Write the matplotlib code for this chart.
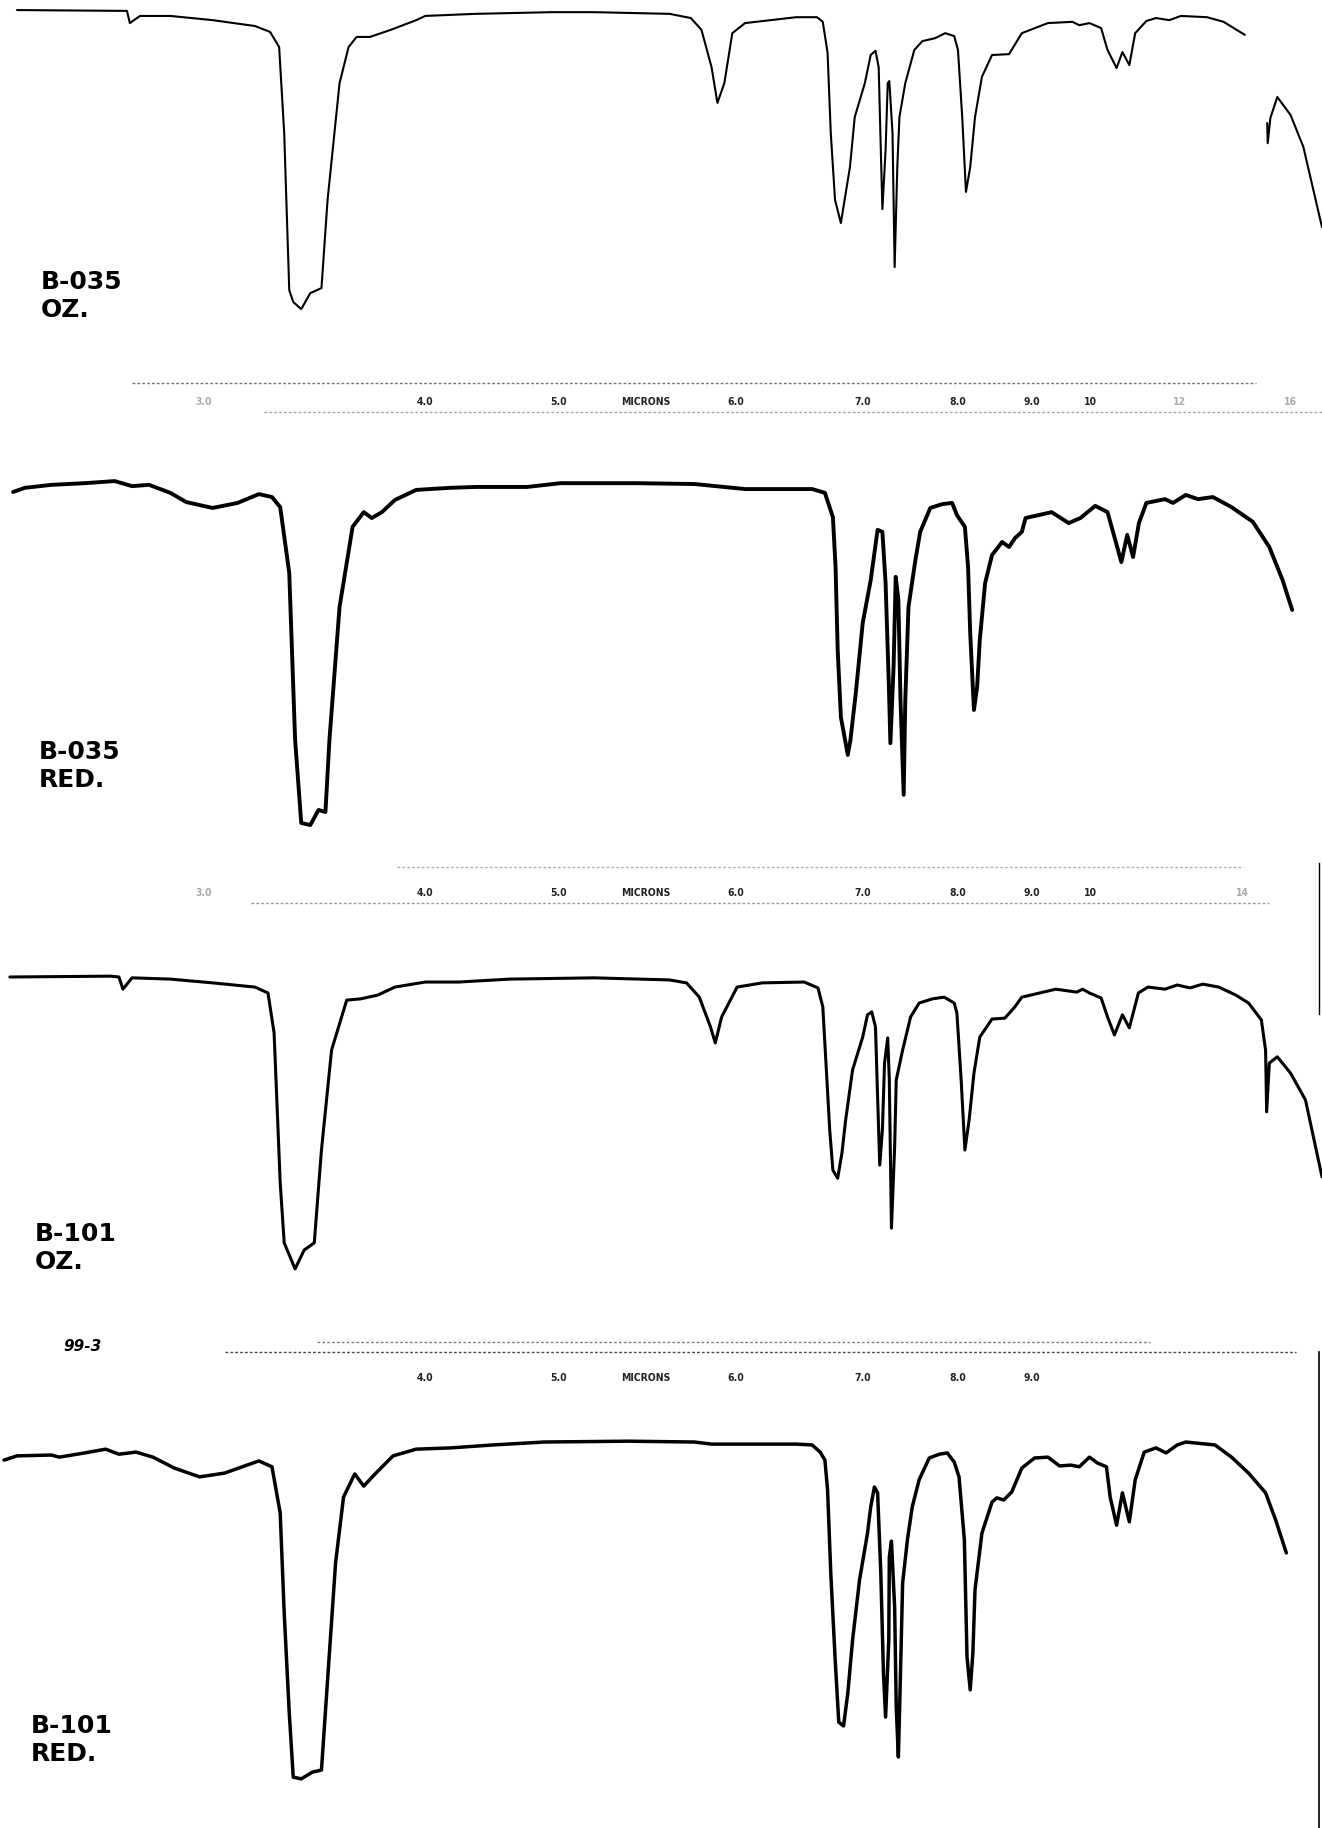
import numpy as np
import matplotlib.pyplot as plt
from matplotlib.lines import Line2D

# IR spectra, wavenumber (cm-1) vs % transmittance
b035_oz_wn = [4034, 3621, 3610, 3572, 3458, 3299, 3140, 3083, 3049, 3030, 3011, 2996, 2966, 2932, 2890,
              2867, 2822, 2788, 2758, 2708, 2629, 2534, 2500, 2311, 2023, 1933, 1791, 1751, 1731,
              1712, 1701, 1688, 1673, 1649, 1553, 1514, 1503, 1494, 1488, 1480, 1469, 1462, 1452,
              1443, 1424, 1413, 1404, 1398, 1394, 1391, 1385, 1381, 1378, 1372, 1368, 1363, 1359,
              1348, 1331, 1316, 1292, 1273, 1256, 1249, 1241, 1234, 1226, 1217, 1204, 1185, 1153,
              1129, 1080, 1034, 1021, 1002, 980, 968, 951, 940, 927, 916, 895, 877, 852, 830, 781,
              750, 710, np.nan, 668, 667, 662, 649, 624, 600, 565]
b035_oz_t = [85.7, 85.5, 82.6, 84.3, 84.3, 83.3, 81.9, 80.5, 76.9, 56.4, 19.0, 16.2, 14.5, 18.3, 19.5,
             40.5, 68.3, 76.9, 79.3, 79.3, 81.0, 83.3, 84.3, 84.8, 85.2, 85.2, 84.8, 83.8, 81.0,
             72.1, 63.6, 68.3, 80.2, 82.6, 84.0, 84.0, 82.9, 75.5, 56.4, 40.5, 35.0, 40.5, 48.3,
             60.2, 68.3, 75.0, 76.0, 72.1, 52.4, 38.3, 52.4, 68.3, 68.8, 56.4, 24.5, 48.3, 60.2,
             68.3, 76.2, 78.3, 79.0, 80.2, 79.5, 76.2, 60.2, 42.4, 48.3, 60.2, 69.8, 75.0, 75.2,
             80.2, 82.6, 82.9, 82.1, 82.6, 81.4, 76.2, 71.9, 75.7, 72.6, 80.2, 83.1, 83.8, 83.3, 84.3, 84.0,
             82.9, 79.8, np.nan, 58.8, 54.0, 60.0, 65.0, 60.7, 53.1, 34.0]

b035_red_wn = [4049, 4004, 3905, 3780, 3667, 3602, 3538, 3458, 3398, 3299, 3205, 3125, 3076, 3045,
               3011, 2989, 2966, 2932, 2901, 2875, 2860, 2822, 2773, 2731, 2701, 2663, 2614, 2534,
               2405, 2311, 2117, 1996, 1854, 1744, 1649, 1523, 1499, 1484, 1479, 1475, 1469, 1456,
               1451, 1441, 1428, 1413, 1400, 1391, 1385, 1379, 1376, 1370, 1366, 1361, 1357, 1351,
               1348, 1342, 1329, 1320, 1301, 1279, 1260, 1251, 1236, 1230, 1226, 1219, 1213, 1208,
               1198, 1185, 1166, 1153, 1142, 1129, 1122, 1073, 1041, 1019, 991, 968, 955, 942, 931,
               920, 909, 895, 860, 845, 821, 798, 770, 735, 695, 664, 639, 621]
b035_red_t = [90.0, 91.0, 91.7, 92.1, 92.6, 91.4, 91.7, 89.8, 87.6, 86.2, 87.4, 89.5, 88.8, 86.4,
              70.7, 31.0, 11.2, 10.7, 14.3, 13.8, 31.0, 62.6, 81.7, 85.2, 83.8, 85.2, 88.1, 90.5,
              91.0, 91.2, 91.2, 92.1, 92.1, 91.9, 90.7, 90.7, 89.8, 84.0, 72.1, 52.4, 36.4, 27.4,
              31.0, 42.1, 58.8, 69.0, 81.0, 80.5, 68.3, 44.5, 30.2, 48.3, 69.8, 64.3, 40.5, 17.9,
              40.5, 62.6, 73.8, 80.5, 86.2, 87.1, 87.4, 84.5, 81.7, 72.1, 56.4, 38.1, 43.6, 54.8,
              68.3, 75.0, 78.1, 76.9, 79.0, 80.5, 83.8, 85.2, 82.6, 83.8, 86.7, 85.2, 79.3, 73.3, 79.8,
              74.5, 82.6, 87.4, 88.3, 87.4, 89.3, 88.3, 88.8, 86.4, 82.9, 76.9, 69.0, 61.9]

b101_oz_wn = [4061, 3682, 3651, 3636, 3602, 3458, 3299, 3140, 3091, 3068, 3045, 3030, 2989, 2955,
              2917, 2890, 2852, 2795, 2742, 2678, 2614, 2500, 2375, 2182, 1933, 1791, 1759, 1735,
              1714, 1705, 1693, 1664, 1617, 1538, 1512, 1503, 1497, 1490, 1484, 1475, 1467, 1460,
              1447, 1428, 1419, 1411, 1404, 1400, 1396, 1391, 1387, 1381, 1378, 1374, 1368, 1365,
              1353, 1338, 1322, 1297, 1275, 1256, 1251, 1243, 1236, 1228, 1219, 1208, 1185, 1161,
              1142, 1129, 1065, 1026, 1015, 1002, 980, 968, 955, 940, 927, 910, 892, 860, 837, 813,
              789, 759, 727, 703, 679, 671, 669, 664, 649, 624, 596, 565]
b101_oz_t = [90.0, 90.2, 90.0, 87.1, 89.8, 89.5, 88.6, 87.6, 86.2, 76.7, 41.0, 26.7, 20.5, 25.0,
             26.7, 48.8, 72.6, 84.5, 84.8, 85.7, 87.6, 88.8, 88.8, 89.5, 89.8, 89.3, 88.6, 85.2,
             78.1, 74.3, 80.5, 87.6, 88.6, 88.8, 87.4, 82.9, 69.5, 53.6, 44.0, 42.1, 48.1, 56.0,
             67.9, 75.7, 81.0, 81.7, 78.1, 61.4, 45.2, 53.6, 69.5, 75.5, 65.5, 30.2, 49.5, 65.5,
             72.6, 80.5, 83.8, 84.8, 85.2, 83.8, 81.4, 65.5, 48.8, 56.0, 67.1, 75.7, 80.0, 80.2,
             82.9, 85.2, 87.1, 86.4, 87.1, 86.2, 85.0, 80.5, 76.2, 81.0, 77.9, 86.2, 87.6, 87.1, 88.1, 87.4,
             88.3, 87.6, 85.7, 83.8, 79.8, 72.6, 57.9, 69.5, 71.0, 67.1, 60.7, 42.4]

b101_red_wn = [4083, 4034, 3905, 3875, 3780, 3701, 3651, 3587, 3523, 3443, 3348, 3254, 3170, 3125,
               3076, 3045, 3030, 3011, 2996, 2966, 2924, 2890, 2867, 2837, 2807, 2765, 2731, 2693,
               2621, 2534, 2405, 2246, 2053, 1869, 1744, 1712, 1553, 1523, 1508, 1499, 1494, 1488,
               1480, 1473, 1464, 1456, 1447, 1434, 1419, 1413, 1406, 1400, 1394, 1389, 1385, 1379,
               1378, 1374, 1368, 1365, 1361, 1357, 1353, 1344, 1335, 1322, 1303, 1284, 1269, 1256,
               1247, 1237, 1232, 1226, 1221, 1217, 1204, 1185, 1176, 1163, 1148, 1129, 1105, 1080,
               1058, 1037, 1021, 1002, 987, 970, 963, 951, 940, 927, 916, 899, 877, 858, 837, 821,
               766, 735, 703, 671, 652, 632]
b101_red_t = [87.6, 88.6, 88.8, 88.3, 89.3, 90.2, 89.0, 89.5, 88.3, 85.7, 83.6, 84.5, 86.4, 87.4,
              86.0, 75.0, 51.2, 27.4, 12.1, 11.7, 13.3, 13.8, 35.2, 63.1, 78.8, 84.3, 81.4, 84.0,
              88.6, 90.2, 90.5, 91.2, 91.9, 92.1, 91.9, 91.4, 91.4, 91.2, 89.5, 87.6, 80.5, 60.7,
              40.7, 25.2, 24.3, 32.1, 44.8, 59.0, 70.2, 76.4, 81.2, 79.8, 60.7, 36.9, 26.4, 44.8,
              64.5, 68.3, 52.6, 28.8, 16.9, 36.9, 58.3, 68.6, 76.4, 82.9, 88.1, 89.0, 89.3, 87.1,
              83.6, 68.6, 40.7, 32.9, 41.7, 56.7, 70.2, 77.6, 78.6, 78.1, 80.0, 85.7, 88.1, 88.3,
              86.2, 86.4, 86.0, 88.3, 86.9, 86.0, 78.8, 72.1, 79.8, 72.9, 82.9, 89.5, 90.5, 89.3, 91.2, 91.9,
              91.2, 88.3, 84.5, 79.8, 73.3, 65.5]

sample_labels = ["B-035\nOZ.", "B-035\nRED.", "B-101\nOZ.", "B-101\nRED."]

# micron tick labels printed on each chart strip
row1_microns = [3.0, 4.0, 5.0, 6.0, 7.0, 8.0, 9.0, 10, 12, 16]
row1_labels = ["3.0", "4.0", "5.0", "6.0", "7.0", "8.0", "9.0", "10", "12", "16"]
row2_microns = [3.0, 4.0, 5.0, 6.0, 7.0, 8.0, 9.0, 10, 14]
row2_labels = ["3.0", "4.0", "5.0", "6.0", "7.0", "8.0", "9.0", "10", "14"]
row3_microns = [4.0, 5.0, 6.0, 7.0, 8.0, 9.0]
row3_labels = ["4.0", "5.0", "6.0", "7.0", "8.0", "9.0"]
faint = ["3.0", "12", "14", "16"]
microns_word_at = 5.45


# grating chart: scale doubles below 2000 cm-1
def fwd(w):
    w = np.asarray(w, float)
    return np.where(w >= 2000, w - 2000, 2 * (w - 2000))


def inv(u):
    u = np.asarray(u, float)
    return np.where(u >= 0, u + 2000, u / 2 + 2000)


W, H = 1322, 1828
fig = plt.figure(figsize=(W / 100, H / 100), dpi=100)
fig.patch.set_facecolor("white")


def band(top, bottom):
    return [0, 1 - bottom / H, 1, (bottom - top) / H]


def setup(ax):
    ax.set_xscale("function", functions=(fwd, inv))
    ax.set_xlim(4098, 565)
    ax.set_axis_off()
    ax.patch.set_alpha(0)


spectra = [(b035_oz_wn, b035_oz_t), (b035_red_wn, b035_red_t),
           (b101_oz_wn, b101_oz_t), (b101_red_wn, b101_red_t)]
bands = [(-50, 370), (450, 870), (935, 1355), (1408, 1828)]
widths = [1.5, 2.8, 2.2, 2.5]
label_pos = [(0.031, 0.238), (0.029, 0.31), (0.026, 0.317), (0.023, 0.272)]

for (wn, t), (top, bot), lw, lab, (lx, ly) in zip(spectra, bands, widths, sample_labels, label_pos):
    ax = fig.add_axes(band(top, bot))
    setup(ax)
    ax.set_ylim(0, 100)
    ax.plot(wn, t, color="black", lw=lw, solid_joinstyle="round", solid_capstyle="round")
    ax.text(lx, ly, lab, transform=ax.transAxes, ha="left", va="top", fontsize=18,
            fontweight="bold", linespacing=1.2, color="black")

# strips between the charts carrying the micron scale
strips = [((372, 425), row1_microns, row1_labels, 0.43, [(0.79, 0.10, 0.95, 0.55), (0.245, 0.20, 1.0, 0.35)]),
          ((855, 915), row2_microns, row2_labels, 0.367, [(0.80, 0.30, 0.94, 0.3), (0.20, 0.19, 0.96, 0.4)]),
          ((1330, 1395), row3_microns, row3_labels, 0.26, [(0.815, 0.24, 0.87, 0.5), (0.66, 0.17, 0.98, 0.7)])]

for (top, bot), microns, labels, ty, rules in strips:
    ax = fig.add_axes(band(top, bot))
    setup(ax)
    ax.set_ylim(0, 1)
    for yy, x0, x1, a in rules:
        ax.axhline(yy, x0, x1, color="black", lw=1.0, ls=(0, (2, 1.5)), alpha=a)
    for m, s in zip(microns, labels):
        ax.text(1e4 / m, ty, s, ha="center", va="center", fontsize=7.5, fontweight="bold",
                fontstretch="condensed", color="#aaaaaa" if s in faint else "#222222")
    ax.text(1e4 / microns_word_at, ty, "MICRONS", ha="center", va="center", fontsize=7.5,
            fontweight="bold", fontstretch="condensed", color="#222222")
    if top == 1330:
        ax.text(0.048, 0.74, "99-3", transform=ax.transAxes, ha="left", va="center",
                fontsize=11, fontweight="bold", style="italic")

# paper edge visible on the right of the lower sheets
fig.add_artist(Line2D([0.998, 0.998], [0, 1 - 1352 / H], color="black", lw=1.2))
fig.add_artist(Line2D([0.998, 0.998], [1 - 1014 / H, 1 - 863 / H], color="black", lw=1.0))

fig.savefig("out.png", dpi=100, facecolor="white")
